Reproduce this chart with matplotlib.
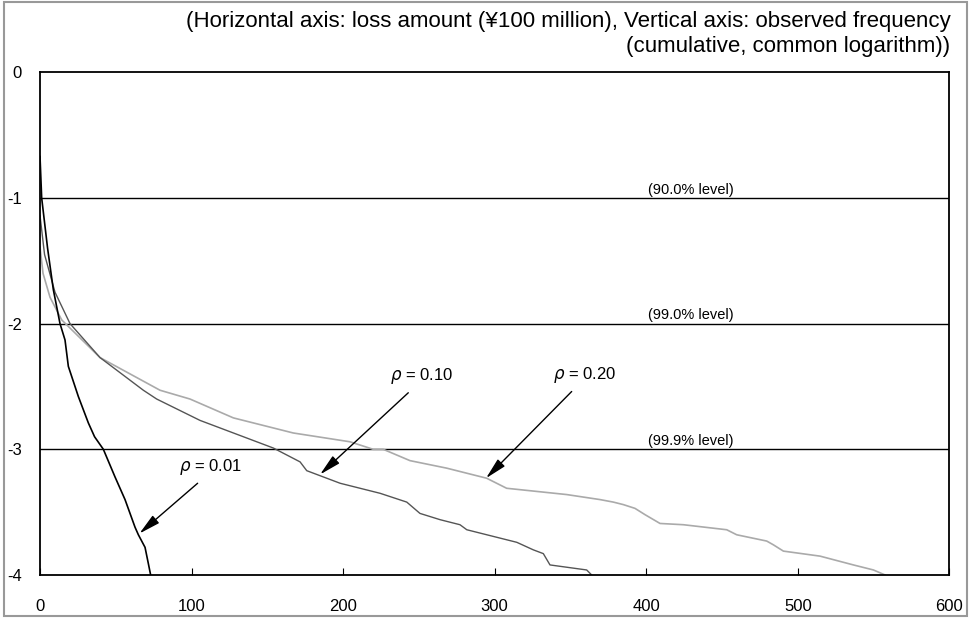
import numpy as np
import matplotlib
matplotlib.use("Agg")
import matplotlib.pyplot as plt
from matplotlib.patches import Rectangle

plt.rcParams['font.family'] = ['Liberation Sans', 'DejaVu Sans']
plt.rcParams['axes.unicode_minus'] = False

# ---- DATA ----
x_r01 = [0, 1.1, 5, 8.8, 13.2, 16.5, 18.7, 25.3, 31.9, 36, 41.8, 49.5, 56.1,
         62.7, 64.9, 69.3, 71.5, 73]
y_r01 = [-0.67, -1.0, -1.4, -1.73, -2.0, -2.13, -2.34, -2.58, -2.79, -2.9,
         -3.0, -3.22, -3.40, -3.62, -3.68, -3.78, -3.91, -4.0]

x_r10 = [0, 3, 9.9, 19.8, 39.6, 68.2, 77, 105.6, 154, 171.6, 176, 184.8, 198,
         224.4, 242, 250.7, 264, 277.1, 281.6, 314.6, 325.5, 332.1, 336.5,
         360.7, 364]
y_r10 = [-1.14, -1.45, -1.75, -2.0, -2.27, -2.53, -2.6, -2.77, -2.99, -3.10,
         -3.17, -3.21, -3.27, -3.35, -3.42, -3.51, -3.56, -3.60, -3.64, -3.74,
         -3.80, -3.83, -3.92, -3.96, -4.0]

x_r20 = [0, 2, 6.6, 14.3, 39.6, 79.2, 99, 127.6, 167.1, 204.5, 219.9, 226.5,
         244.1, 268.4, 294.7, 307.9, 347.5, 369.5, 378.3, 384.9, 392.6, 399.2,
         409.1, 424.5, 453.1, 459.7, 479.5, 483.9, 490.5, 514.7, 536.7, 549.9,
         557.6]
y_r20 = [-1.39, -1.6, -1.79, -1.97, -2.27, -2.53, -2.6, -2.75, -2.87, -2.94,
         -3.0, -3.0, -3.09, -3.15, -3.23, -3.31, -3.36, -3.40, -3.42, -3.44,
         -3.47, -3.52, -3.59, -3.60, -3.64, -3.68, -3.73, -3.76, -3.81, -3.85,
         -3.92, -3.96, -4.0]

level_y = [-1, -2, -3]
level_labels = ["(90.0% level)", "(99.0% level)", "(99.9% level)"]

rho_labels = ["0.01", "0.10", "0.20"]
arrow_tips = [(65.6, -3.67), (184.8, -3.20), (294.3, -3.23)]
arrow_tails = [(104, -3.27), (243, -2.55), (350.8, -2.54)]

x_ticks = [0, 100, 200, 300, 400, 500, 600]
y_ticks = [0, -1, -2, -3, -4]

# ---- FIGURE ----
fig = plt.figure(figsize=(9.71, 6.18), dpi=100)
ax = fig.add_axes([0.0412, 0.0696, 0.9365, 0.8134])

ax.plot(x_r20, y_r20, color="#aaaaaa", lw=1.2)
ax.plot(x_r10, y_r10, color="#555555", lw=1.0)
ax.plot(x_r01, y_r01, color="black", lw=1.2)

for yv, lab in zip(level_y, level_labels):
    ax.axhline(yv, color="black", lw=1.0, zorder=0)
    ax.text(401, yv + 0.01, lab, fontsize=10.5, ha="left", va="bottom")

for lab, tip, tail in zip(rho_labels, arrow_tips, arrow_tails):
    ax.annotate("", xy=tip, xytext=tail,
                arrowprops=dict(arrowstyle="-|>,head_length=1.3,head_width=0.3",
                                color="black", lw=1.0, shrinkA=0, shrinkB=0))
    ax.text(tail[0] - 12, tail[1] + 0.05, r"$\rho$" + " = " + lab,
            fontsize=12, ha="left", va="bottom")

ax.set_xlim(0, 600)
ax.set_ylim(-4, 0)
ax.set_xticks(x_ticks)
ax.set_yticks(y_ticks)
ax.set_xticklabels([str(v) for v in x_ticks])
ax.set_yticklabels([str(v) for v in y_ticks])
ax.tick_params(axis="x", direction="in", length=5, pad=17, labelsize=12)
ax.tick_params(axis="y", length=0, pad=13, labelsize=12)
for s in ax.spines.values():
    s.set_linewidth(1.3)

fig.text(0.979, 0.945,
         "(Horizontal axis: loss amount (¥100 million), Vertical axis: observed frequency\n"
         "(cumulative, common logarithm))",
         ha="right", va="center", fontsize=16, linespacing=1.25)

fig.patches.append(Rectangle((0.004, 0.004), 0.992, 0.992, transform=fig.transFigure,
                             fill=False, edgecolor="#999999", lw=1.5))

fig.savefig("out.png", dpi=100)
